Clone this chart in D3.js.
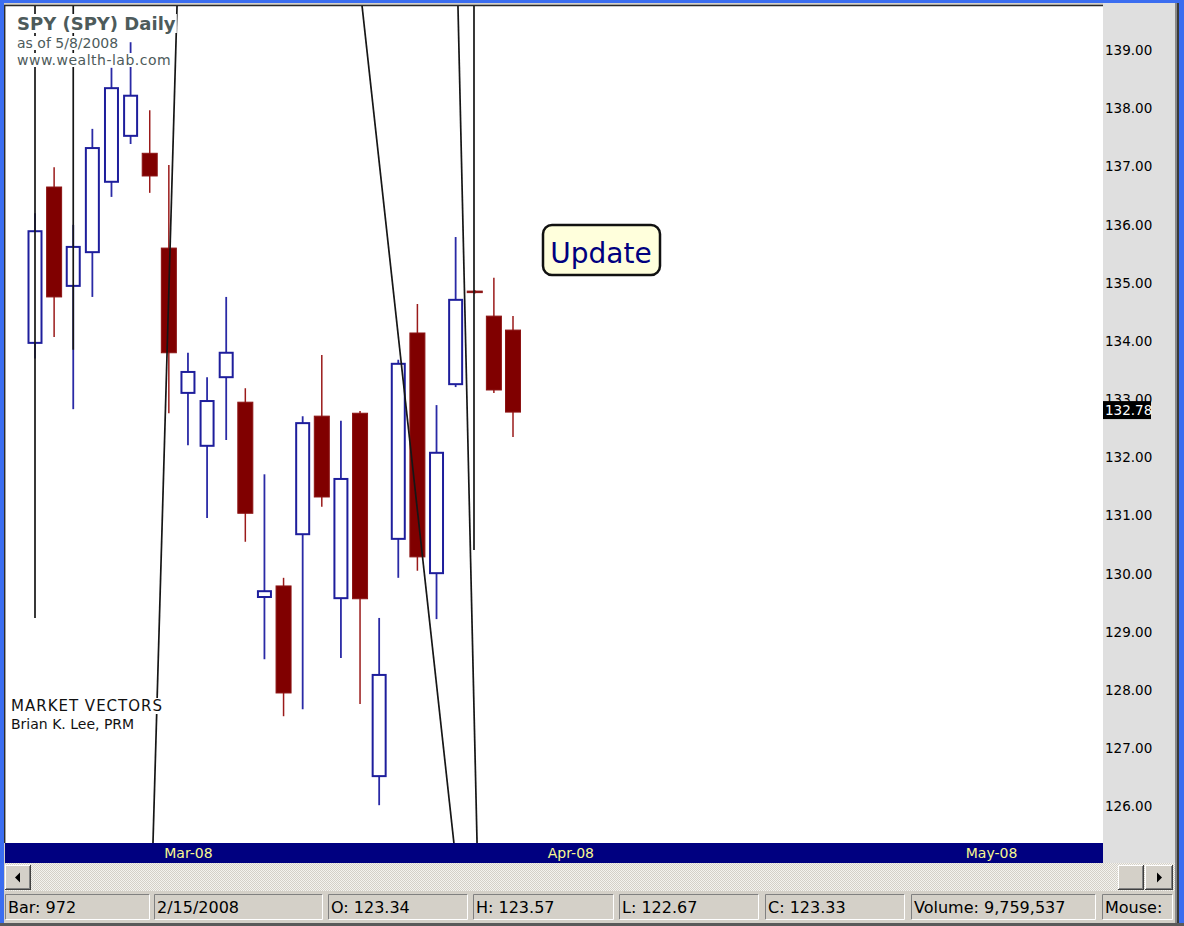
<!DOCTYPE html>
<html>
<head>
<meta charset="utf-8">
<script src="https://cdn.jsdelivr.net/npm/d3@7"></script>
<style>
    body { margin: 0; background: #d4d0c8; overflow: hidden; }
    text { font-family: "DejaVu Sans", Verdana, sans-serif; }
</style>
</head>
<body>
<div id="chart"></div>
<script>
// SPY daily bars, 2/20/2008 .. 3/27/2008
const dates = ["2008-02-20", "2008-02-21", "2008-02-22", "2008-02-25", "2008-02-26", "2008-02-27",
    "2008-02-28", "2008-02-29", "2008-03-03", "2008-03-04", "2008-03-05", "2008-03-06", "2008-03-07",
    "2008-03-10", "2008-03-11", "2008-03-12", "2008-03-13", "2008-03-14", "2008-03-17", "2008-03-18",
    "2008-03-19", "2008-03-20", "2008-03-24", "2008-03-25", "2008-03-26", "2008-03-27"]
const opens  = [133.97, 136.65, 134.95, 135.53, 136.74, 137.53, 137.23, 135.60, 133.11, 132.20, 133.38, 132.95, 129.60,
    129.79, 130.68, 132.71, 129.58, 132.76, 126.52, 130.60, 134.14, 130.01, 133.26, 134.86, 134.43, 134.19]
const highs  = [136.20, 136.99, 136.00, 137.65, 138.70, 139.14, 137.97, 137.03, 133.80, 133.38, 134.76, 133.19, 131.71,
    129.93, 132.71, 133.76, 132.63, 132.80, 129.24, 133.68, 134.64, 132.90, 135.79, 134.88, 135.09, 134.43]
const lows   = [133.70, 134.07, 132.83, 134.76, 136.48, 137.39, 136.55, 132.76, 132.21, 130.96, 132.30, 130.55, 128.53,
    127.55, 127.67, 131.15, 128.55, 127.76, 126.02, 129.93, 130.05, 129.22, 133.21, 134.82, 133.11, 132.35]
const closes = [135.89, 134.76, 135.62, 137.32, 138.35, 138.22, 136.84, 133.80, 133.47, 132.97, 133.80, 131.04, 129.70,
    127.95, 132.59, 131.32, 131.63, 129.57, 128.26, 133.61, 130.29, 132.08, 134.71, 134.84, 133.16, 132.78]

const priceTicks = [126, 127, 128, 129, 130, 131, 132, 133, 134, 135, 136, 137, 138, 139]
const monthTicks = [8, 28, 50]          // bar number of first trading day of month
const monthLabels = ["Mar-08", "Apr-08", "May-08"]
const lastClose = 132.78

// drawn lines, [bar, price] -> [bar, price]
const studyLines = [
    [[0, 139.78], [0, 129.24]],
    [[2, 139.78], [2, 133.85]],
    [[7.43, 139.78], [6.17, 125.37]],
    [[17.10, 139.78], [21.91, 125.37]],
    [[22.12, 139.78], [23.12, 125.37]],
    [[22.96, 139.78], [22.96, 130.41]]
]

const statusText = ["Bar: 972", "2/15/2008", "O: 123.34", "H: 123.57", "L: 122.67", "C: 123.33",
    "Volume: 9,759,537", "Mouse:"]
const statusBoxes = [[5, 150], [154, 323], [328, 468], [473, 614], [619, 759], [765, 905], [911, 1096], [1102, 1173]]

const W = 1184, H = 926
const plot = {left: 6, right: 1103, top: 6, bottom: 843}

const svg = d3.select("#chart").append("svg")
    .attr("width", W)
    .attr("height", H)

const defs = svg.append("defs")
defs.append("clipPath").attr("id", "plotclip")
    .append("rect")
    .attr("x", plot.left).attr("y", plot.top)
    .attr("width", plot.right - plot.left).attr("height", plot.bottom - plot.top)
const dither = defs.append("pattern").attr("id", "dither")
    .attr("width", 2).attr("height", 2).attr("patternUnits", "userSpaceOnUse")
dither.append("rect").attr("width", 2).attr("height", 2).attr("fill", "#f4f3ef")
dither.append("rect").attr("width", 1).attr("height", 1).attr("fill", "#d4d0c8")
dither.append("rect").attr("x", 1).attr("y", 1).attr("width", 1).attr("height", 1).attr("fill", "#d4d0c8")

// window frame
svg.append("rect").attr("width", W).attr("height", H).attr("fill", "#d4d0c8")
svg.append("rect").attr("x", 1103).attr("y", 3).attr("width", 72).attr("height", 860).attr("fill", "#dfdfdf")
svg.append("rect").attr("x", plot.left).attr("y", plot.top)
    .attr("width", plot.right - plot.left).attr("height", plot.bottom - plot.top)
    .attr("fill", "#fff")
svg.append("path").attr("d", "M4.5,843V5.5H1103").attr("fill", "none").attr("stroke", "#2a2a2a").attr("stroke-width", 1.5)

// scales
const x = d3.scaleLinear().domain([0, 25]).range([35, 513])
const y = d3.scaleLinear().domain([125.37, 139.78]).range([843, 5])

const bars = dates.map(function(d, i) {
    return {date: d, open: opens[i], high: highs[i], low: lows[i], close: closes[i], up: closes[i] > opens[i]}
})

const chart = svg.append("g").attr("clip-path", "url(#plotclip)")

// candles
const candle = chart.selectAll("g.candle").data(bars).enter().append("g").attr("class", "candle")
candle.append("line")
    .attr("x1", (d, i) => x(i)).attr("x2", (d, i) => x(i))
    .attr("y1", d => y(d.high)).attr("y2", d => y(d.low))
    .attr("stroke", d => d.up ? "#2a2aa6" : "#9a1a1a")
    .attr("stroke-width", d => d.up ? 1.8 : 1.5)
candle.append("rect")
    .attr("x", (d, i) => x(i) - (d.up ? 6.5 : 7.5))
    .attr("width", d => d.up ? 13 : 15)
    .attr("y", d => y(Math.max(d.open, d.close)))
    .attr("height", d => Math.max(1.5, Math.abs(y(d.open) - y(d.close))))
    .attr("fill", d => d.up ? "#fff" : "#800000")
    .attr("stroke", d => d.up ? "#1e1e9c" : "#8c1414")
    .attr("stroke-width", d => d.up ? 2 : 1)

// black study lines over the bars
chart.selectAll("line.study").data(studyLines).enter().append("line")
    .attr("class", "study")
    .attr("x1", d => x(d[0][0])).attr("y1", d => y(d[0][1]))
    .attr("x2", d => x(d[1][0])).attr("y2", d => y(d[1][1]))
    .attr("stroke", "#161616")
    .attr("stroke-width", 1.7)

// text with white box behind it, like the original
function label(txt, tx, ty, size, color, weight, spacing) {
    const g = svg.append("g")
    const t = g.append("text")
        .attr("x", tx).attr("y", ty)
        .attr("font-size", size)
        .attr("font-weight", weight || "normal")
        .attr("letter-spacing", spacing || 0)
        .attr("fill", color)
        .text(txt)
    const b = t.node().getBBox()
    g.insert("rect", "text")
        .attr("x", b.x - 1).attr("y", b.y + 1)
        .attr("width", b.width + 2).attr("height", b.height - 2)
        .attr("fill", "#fff")
    return t
}

label("SPY (SPY) Daily", 17, 30, 18, "#4d5b5b", "bold")
label("as of 5/8/2008", 17, 48, 14, "#4d5b5b")
label("www.wealth-lab.com", 17, 65, 14, "#4d5b5b", "normal", 0.5)
label("MARKET VECTORS", 11, 711, 15, "#111", "normal", 1)
label("Brian K. Lee, PRM", 11, 729, 14, "#111")

// Update button
svg.append("rect")
    .attr("x", 543).attr("y", 225).attr("width", 117).attr("height", 50).attr("rx", 9)
    .attr("fill", "#ffffdc").attr("stroke", "#111").attr("stroke-width", 2.5)
svg.append("text")
    .attr("x", 601).attr("y", 263)
    .attr("text-anchor", "middle")
    .attr("font-size", 28)
    .attr("fill", "#00007f")
    .text("Update")

// price axis on the right
const yAxis = d3.axisRight(y)
    .tickValues(priceTicks)
    .tickFormat(d3.format(".2f"))
    .tickSize(0)
    .tickPadding(2)
const ya = svg.append("g").attr("transform", "translate(1103,0)").call(yAxis)
ya.select(".domain").remove()
ya.selectAll("text")
    .attr("font-family", "'Liberation Sans', Arial, sans-serif")
    .attr("font-size", 13.5)
    .attr("fill", "#000")

// last close marker
const lc = svg.append("g").attr("transform", "translate(1103," + (y(lastClose) - 2) + ")")
lc.append("rect").attr("x", 0).attr("y", -9).attr("width", 48).attr("height", 18).attr("fill", "#000")
lc.append("text").attr("x", 2).attr("dy", "0.35em")
    .attr("font-family", "'Liberation Sans', Arial, sans-serif")
    .attr("font-size", 13.5).attr("fill", "#fff")
    .text(d3.format(".2f")(lastClose))

// date axis bar
svg.append("rect").attr("x", 5).attr("y", 843).attr("width", 1098).attr("height", 20).attr("fill", "#000080")
const xAxis = d3.axisBottom(x)
    .tickValues(monthTicks)
    .tickFormat((d, i) => monthLabels[i])
    .tickSize(0)
const xa = svg.append("g").attr("transform", "translate(0,853)").call(xAxis)
xa.select(".domain").remove()
xa.selectAll("text")
    .attr("y", 0).attr("dy", "0.35em")
    .attr("font-family", "'DejaVu Sans', Verdana, sans-serif")
    .attr("font-size", 14)
    .attr("fill", "#f8f890")

// scroll bar
svg.append("rect").attr("x", 5).attr("y", 863).attr("width", 1170).attr("height", 28).attr("fill", "url(#dither)")
function button(bx, by, bw, bh, arrow) {
    const g = svg.append("g").attr("transform", "translate(" + bx + "," + by + ")")
    g.append("rect").attr("width", bw).attr("height", bh).attr("fill", "#404040")
    g.append("rect").attr("width", bw - 1).attr("height", bh - 1).attr("fill", "#fff")
    g.append("rect").attr("x", 1).attr("y", 1).attr("width", bw - 2).attr("height", bh - 2).attr("fill", "#808080")
    g.append("rect").attr("x", 1).attr("y", 1).attr("width", bw - 3).attr("height", bh - 3).attr("fill", "#d4d0c8")
    if (arrow) {
        const cx = bw / 2, cy = bh / 2
        const d = arrow == "left"
            ? "M" + (cx - 3) + "," + cy + "L" + (cx + 2) + "," + (cy - 5) + "L" + (cx + 2) + "," + (cy + 5) + "Z"
            : "M" + (cx + 3) + "," + cy + "L" + (cx - 2) + "," + (cy - 5) + "L" + (cx - 2) + "," + (cy + 5) + "Z"
        g.append("path").attr("d", d).attr("fill", "#000")
    }
}
button(5, 865, 26, 25, "left")
button(1118, 865, 26, 25)
button(1145, 865, 28, 25, "right")

// status bar
const status = svg.selectAll("g.status").data(statusText).enter().append("g")
    .attr("class", "status")
    .attr("transform", (d, i) => "translate(" + statusBoxes[i][0] + ",894)")
status.append("rect")
    .attr("width", (d, i) => statusBoxes[i][1] - statusBoxes[i][0])
    .attr("height", 26)
    .attr("fill", "#d4d0c8")
status.append("path")
    .attr("d", (d, i) => "M0.5,25.5V0.5H" + (statusBoxes[i][1] - statusBoxes[i][0] - 0.5))
    .attr("fill", "none").attr("stroke", "#808080")
status.append("path")
    .attr("d", (d, i) => "M0.5,25.5H" + (statusBoxes[i][1] - statusBoxes[i][0] - 0.5) + "V0.5")
    .attr("fill", "none").attr("stroke", "#fff")
status.append("text")
    .attr("x", 3).attr("y", 19)
    .attr("font-size", 16)
    .attr("fill", "#000")
    .text(d => d)

// outer window border
svg.append("rect").attr("x", 1175).attr("y", 0).attr("width", 2).attr("height", H).attr("fill", "#8a8a8a")
svg.append("rect").attr("x", 1177).attr("y", 0).attr("width", 2).attr("height", H).attr("fill", "#3a3a3a")
svg.append("rect").attr("x", 0).attr("y", 0).attr("width", 4).attr("height", H).attr("fill", "#3b6df0")
svg.append("rect").attr("x", 1179).attr("y", 0).attr("width", 5).attr("height", H).attr("fill", "#3b6df0")
svg.append("rect").attr("x", 0).attr("y", 0).attr("width", W).attr("height", 3).attr("fill", "#3b6df0")
svg.append("rect").attr("x", 0).attr("y", 923).attr("width", W).attr("height", 3).attr("fill", "#5a5a5a")
</script>
</body>
</html>
